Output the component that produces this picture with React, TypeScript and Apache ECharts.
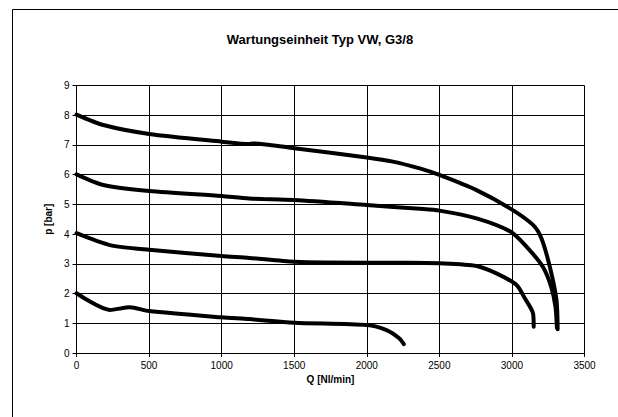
import React, { useEffect, useRef } from "react";
import * as echarts from "echarts";

const titleText = "Wartungseinheit Typ VW, G3/8";
const xName = "Q [Nl/min]";
const yName = "p [bar]";

const curve8: [number, number][] = [
  [0, 8.02], [185, 7.67], [500, 7.37], [1000, 7.11], [1190, 7.03], [1215, 7.05],
  [1500, 6.89], [2000, 6.58], [2180, 6.44], [2365, 6.21], [2500, 5.99], [2756, 5.48],
  [2992, 4.85], [3145, 4.31], [3203, 3.86], [3261, 2.9], [3307, 1.78], [3315, 0.8],
];
const curve6: [number, number][] = [
  [0, 6.01], [185, 5.65], [500, 5.45], [1000, 5.28], [1190, 5.2], [1500, 5.15],
  [2000, 4.98], [2365, 4.85], [2500, 4.79], [2756, 4.53], [2992, 4.08], [3100, 3.58],
  [3213, 2.9], [3270, 2.23], [3300, 1.56], [3310, 0.85],
];
const curve4: [number, number][] = [
  [0, 4.03], [230, 3.63], [500, 3.47], [1000, 3.26], [1190, 3.2], [1500, 3.07],
  [2000, 3.04], [2296, 3.04], [2500, 3.02], [2756, 2.93], [2893, 2.68], [3032, 2.29],
  [3089, 1.84], [3145, 1.34], [3150, 0.88],
];
const curve2: [number, number][] = [
  [0, 2.01], [230, 1.45], [368, 1.54], [500, 1.41], [1000, 1.2], [1190, 1.14],
  [1500, 1.02], [2000, 0.94], [2136, 0.77], [2225, 0.49], [2255, 0.3],
];

const allCurves = [curve8, curve6, curve4, curve2];

export default function App() {
  const ref = useRef<HTMLDivElement>(null);
  useEffect(() => {
    if (!ref.current) return;
    const chart = echarts.init(ref.current, null, { renderer: "svg" });
    const font = "Liberation Sans, Arial, sans-serif";
    chart.setOption({
      animation: false,
      backgroundColor: "#fff",
      textStyle: { fontFamily: font },
      title: {
        text: titleText,
        left: 315,
        textAlign: "center",
        top: 28,
        textStyle: { fontSize: 13, fontWeight: "bold", color: "#000", fontFamily: font },
      },
      graphic: [
        {
          type: "rect",
          shape: { x: 12.5, y: 9.5, width: 700, height: 500 },
          style: { fill: "none", stroke: "#000", lineWidth: 1 },
          silent: true,
        },
      ],
      grid: { left: 76.5, right: 33.5, top: 85.5, bottom: 64, containLabel: false },
      xAxis: {
        type: "value",
        min: 0,
        max: 3500,
        interval: 500,
        name: xName,
        nameLocation: "middle",
        nameGap: 19,
        nameTextStyle: { fontSize: 10, fontWeight: "bold", color: "#000", fontFamily: font },
        axisLine: { show: true, lineStyle: { color: "#000", width: 1 } },
        axisTick: { show: true, length: 4, lineStyle: { color: "#000" } },
        axisLabel: {
          fontSize: 10,
          color: "#000",
          margin: 7,
          fontFamily: font,
          formatter: (v: number) => String(v),
        },
        splitLine: { show: true, lineStyle: { color: "#000", width: 1 } },
      },
      yAxis: {
        type: "value",
        min: 0,
        max: 9,
        interval: 1,
        name: yName,
        nameLocation: "middle",
        nameGap: 17,
        nameTextStyle: { fontSize: 10, fontWeight: "bold", color: "#000", fontFamily: font },
        axisLine: { show: true, lineStyle: { color: "#000", width: 1 } },
        axisTick: { show: true, length: 4, lineStyle: { color: "#000" } },
        axisLabel: { fontSize: 10, color: "#000", margin: 7, fontFamily: font },
        splitLine: { show: true, lineStyle: { color: "#000", width: 1 } },
      },
      series: allCurves.map((c) => ({
        type: "line",
        data: c,
        smooth: 0.25,
        showSymbol: false,
        symbol: "none",
        lineStyle: { color: "#000", width: 4, cap: "round", join: "round" },
      })),
    });
    return () => chart.dispose();
  }, []);
  return (
    <div
      ref={ref}
      style={{ position: "fixed", left: 0, top: 0, width: 618, height: 417, background: "#fff" }}
    />
  );
}
